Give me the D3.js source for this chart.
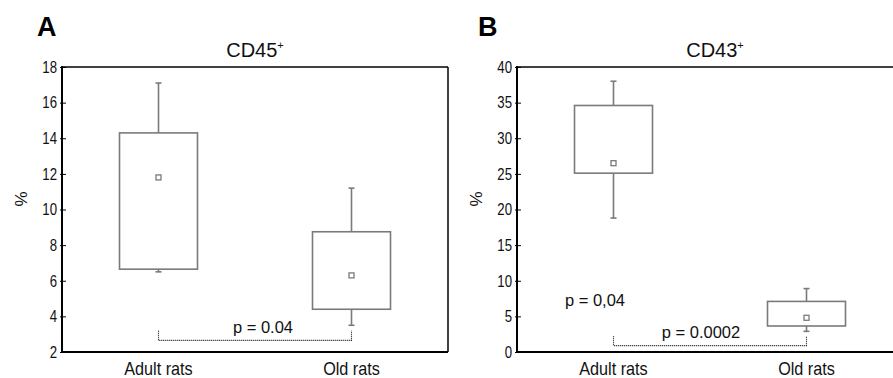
<!DOCTYPE html>
<html>
<head>
<meta charset="utf-8">
<script src="https://cdn.jsdelivr.net/npm/d3@7"></script>
<style>
  body { margin: 0; background: #fff; }
  svg { display: block; }
  .reg { font-family: 'Liberation Sans', Arial, sans-serif; }
</style>
</head>
<body>
<script>
// categories
var groups = ['Adult rats', 'Old rats'];

// panel A, CD45+  (box = 25-75%, whiskers = min-max, point = median)
var cd45Min    = [6.5, 3.5];
var cd45Q1     = [6.65, 4.4];
var cd45Median = [11.8, 6.3];
var cd45Q3     = [14.3, 8.75];
var cd45Max    = [17.1, 11.2];
var cd45Ticks  = [2, 4, 6, 8, 10, 12, 14, 16, 18];

// panel B, CD43+
var cd43Min    = [18.8, 2.9];
var cd43Q1     = [25.1, 3.65];
var cd43Median = [26.5, 4.8];
var cd43Q3     = [34.6, 7.1];
var cd43Max    = [38.0, 8.9];
var cd43Ticks  = [0, 5, 10, 15, 20, 25, 30, 35, 40];

var W = 893, H = 378;
var svg = d3.select('body').append('svg').attr('width', W).attr('height', H);

// SETTINGS
var settings = {
  top: 67,
  bottom: 352,
  frameWidth: 386,
  boxColor: '#7a7a7a',
  text: '#111',
  tickSquash: 0.8,
  labelSquash: 0.9
};

function drawPanel(opt) {
  var g = svg.append('g');
  var left = opt.left, right = left + settings.frameWidth;

  var y = d3.scaleLinear().domain(opt.domain).range([settings.bottom, settings.top]);
  var x = d3.scalePoint().domain(groups).range([left, right]).padding(0.5);
  var boxW = 78;

  // FRAME: top + right thin, left + bottom heavier
  g.append('line').attr('x1', left).attr('x2', right).attr('y1', settings.top).attr('y2', settings.top)
    .attr('stroke', '#000').attr('stroke-width', 1.5);
  g.append('line').attr('x1', right).attr('x2', right).attr('y1', settings.top).attr('y2', settings.bottom)
    .attr('stroke', '#000').attr('stroke-width', 1.5);

  // Y AXIS
  var ax = g.append('g').attr('transform', 'translate(' + left + ',0)')
    .call(d3.axisLeft(y).tickValues(opt.ticks).tickSize(-4).tickSizeOuter(0).tickPadding(5));
  ax.select('.domain').remove();
  ax.selectAll('.tick line').attr('x1', -2).attr('stroke', '#000');
  ax.selectAll('.tick text')
    .attr('class', 'reg')
    .attr('font-size', 16.5)
    .attr('fill', settings.text)
    .attr('x', -5 / settings.tickSquash)
    .attr('transform', 'scale(' + settings.tickSquash + ',1)');

  g.append('line').attr('x1', left).attr('x2', left).attr('y1', settings.top - 1).attr('y2', settings.bottom + 1)
    .attr('stroke', '#000').attr('stroke-width', 2);
  g.append('line').attr('x1', left).attr('x2', right).attr('y1', settings.bottom).attr('y2', settings.bottom)
    .attr('stroke', '#000').attr('stroke-width', 2);

  // X LABELS
  g.selectAll('.xl').data(groups).enter().append('text')
    .attr('class', 'reg')
    .attr('transform', function (d) { return 'translate(' + x(d) + ',375) scale(' + settings.labelSquash + ',1)'; })
    .attr('text-anchor', 'middle')
    .attr('font-size', 18)
    .attr('fill', settings.text)
    .text(function (d) { return d; });

  // BOXES
  var rows = groups.map(function (d, i) {
    return { g: d, min: opt.min[i], q1: opt.q1[i], med: opt.med[i], q3: opt.q3[i], max: opt.max[i] };
  });
  var b = g.selectAll('.box').data(rows).enter().append('g');
  b.append('line')
    .attr('x1', function (d) { return x(d.g); }).attr('x2', function (d) { return x(d.g); })
    .attr('y1', function (d) { return y(d.max); }).attr('y2', function (d) { return y(d.q3); })
    .attr('stroke', settings.boxColor).attr('stroke-width', 1.6);
  b.append('line')
    .attr('x1', function (d) { return x(d.g); }).attr('x2', function (d) { return x(d.g); })
    .attr('y1', function (d) { return y(d.q1); }).attr('y2', function (d) { return y(d.min); })
    .attr('stroke', settings.boxColor).attr('stroke-width', 1.6);
  ['min', 'max'].forEach(function (k) {
    b.append('line')
      .attr('x1', function (d) { return x(d.g) - 3; }).attr('x2', function (d) { return x(d.g) + 3; })
      .attr('y1', function (d) { return y(d[k]); }).attr('y2', function (d) { return y(d[k]); })
      .attr('stroke', settings.boxColor).attr('stroke-width', 1.6);
  });
  b.append('rect')
    .attr('x', function (d) { return x(d.g) - boxW / 2; })
    .attr('width', boxW)
    .attr('y', function (d) { return y(d.q3); })
    .attr('height', function (d) { return y(d.q1) - y(d.q3); })
    .attr('fill', '#fff').attr('stroke', settings.boxColor).attr('stroke-width', 1.6);
  b.append('rect')
    .attr('x', function (d) { return x(d.g) - 2.5; })
    .attr('y', function (d) { return y(d.med) - 2.5; })
    .attr('width', 5).attr('height', 5)
    .attr('fill', '#fff').attr('stroke', settings.boxColor).attr('stroke-width', 1.3);

  // SIGNIFICANCE BRACKET
  var br = opt.bracket;
  var xa = x(groups[0]), xb = x(groups[1]);
  var path = 'M' + xa + ',' + y(br[1]) + 'V' + y(br[0]) + 'H' + xb + 'V' + y(br[1]);
  g.append('path').attr('d', path).attr('fill', 'none')
    .attr('stroke', '#111').attr('stroke-width', 1.1).attr('stroke-dasharray', '1,1');

  opt.notes.forEach(function (n) {
    g.append('text').attr('class', 'reg')
      .attr('x', left + n.dx).attr('y', n.y)
      .attr('text-anchor', 'middle').attr('font-size', 16.5).attr('fill', settings.text)
      .text(n.t);
  });

  // TITLE
  var t = g.append('text').attr('class', 'reg')
    .attr('x', left + settings.frameWidth / 2 - (opt.titleShift || 0)).attr('y', 57)
    .attr('text-anchor', 'middle').attr('font-size', 20).attr('fill', settings.text);
  t.append('tspan').text(opt.title);
  t.append('tspan').attr('font-size', 11).attr('dy', -8).text('+');

  // PANEL LETTER
  g.append('text').attr('class', 'reg')
    .attr('x', opt.letterX).attr('y', 36)
    .attr('font-size', 27).attr('font-weight', 'bold').attr('fill', '#000')
    .text(opt.letter);

  // Y LABEL
  g.append('text').attr('class', 'reg')
    .attr('transform', 'translate(' + (left - 35) + ',199) rotate(-90)')
    .attr('text-anchor', 'middle').attr('font-size', 17).attr('fill', settings.text)
    .text('%');
}

drawPanel({
  left: 62, domain: [2, 18], ticks: cd45Ticks,
  min: cd45Min, q1: cd45Q1, med: cd45Median, q3: cd45Q3, max: cd45Max,
  bracket: [2.65, 3.2],
  notes: [{ t: 'p = 0.04', dx: 201, y: 333 }],
  title: 'CD45', letter: 'A', letterX: 37
});

drawPanel({
  left: 517, domain: [0, 40], ticks: cd43Ticks,
  min: cd43Min, q1: cd43Q1, med: cd43Median, q3: cd43Q3, max: cd43Max,
  bracket: [0.9, 2.2],
  notes: [{ t: 'p = 0,04', dx: 78, y: 306 }, { t: 'p = 0.0002', dx: 184, y: 338 }],
  title: 'CD43', letter: 'B', letterX: 478, titleShift: -5
});
</script>
</body>
</html>
